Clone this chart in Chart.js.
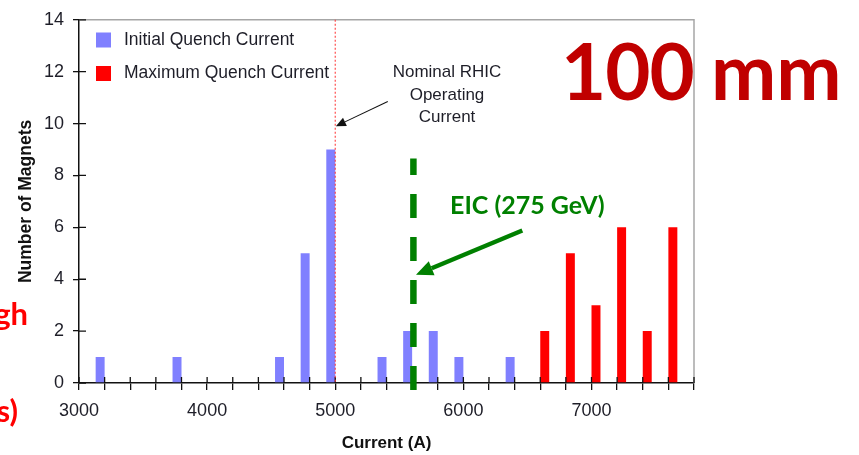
<!DOCTYPE html>
<html>
<head>
<meta charset="utf-8">
<script src="https://cdn.jsdelivr.net/npm/chart.js@4/dist/chart.umd.min.js"></script>
<style>
  html, body { margin: 0; padding: 0; background: #fff; }
  canvas { display: block; }
</style>
</head>
<body>
<canvas id="quench" width="859" height="455"></canvas>
<script>
// 200 A histogram bins (bin centre current, A)
const binCenters = [3000, 3200, 3400, 3600, 3800, 4000, 4200, 4400, 4600, 4800,
                    5000, 5200, 5400, 5600, 5800, 6000, 6200, 6400, 6600, 6800,
                    7000, 7200, 7400, 7600, 7800];

// Initial quench current: occupied bins and magnet counts
const initialBins   = [3200, 3800, 4600, 4800, 5000, 5400, 5600, 5800, 6000, 6400];
const initialCounts = [1, 1, 1, 5, 9, 1, 2, 2, 1, 1];

// Maximum quench current: occupied bins and magnet counts
const maxBins   = [6600, 6800, 7000, 7200, 7400, 7600];
const maxCounts = [2, 5, 3, 6, 2, 6];

// Axis labelling
const xTickLabels = [3000, 4000, 5000, 6000, 7000];
const yTickStep = 2;
const yMax = 14;

// Reference currents (A)
const nominalRhicCurrent = 5000;
const eicCurrent = 5610;

// Arrow end points in data units [current, magnets]
const nominalArrow = { from: [5410, 10.85], to: [5005, 9.9] };
const eicArrow     = { from: [6460, 5.88],  to: [5630, 4.17] };

function countsFor(bins, counts) {
  return binCenters.map(b => {
    const i = bins.indexOf(b);
    return i >= 0 ? counts[i] : null;
  });
}

const AXIS_FONT = "'Liberation Sans', Arial, sans-serif";
const SLIDE_FONT = "Lato, 'Open Sans', sans-serif";
const GREEN = '#008000';

function arrow(ctx, x1, y1, x2, y2, width, headLen, headW, color) {
  const ang = Math.atan2(y2 - y1, x2 - x1);
  const bx = x2 - headLen * Math.cos(ang);
  const by = y2 - headLen * Math.sin(ang);
  ctx.save();
  ctx.strokeStyle = color;
  ctx.fillStyle = color;
  ctx.lineWidth = width;
  ctx.beginPath();
  ctx.moveTo(x1, y1);
  ctx.lineTo(bx, by);
  ctx.stroke();
  ctx.beginPath();
  ctx.moveTo(x2, y2);
  ctx.lineTo(bx + headW / 2 * Math.sin(ang), by - headW / 2 * Math.cos(ang));
  ctx.lineTo(bx - headW / 2 * Math.sin(ang), by + headW / 2 * Math.cos(ang));
  ctx.closePath();
  ctx.fill();
  ctx.restore();
}

// Frame, inward tick stubs, reference lines, legend and annotations
const decorations = {
  id: 'decorations',
  afterDatasetsDraw(chart) {
    const { ctx, chartArea: a, scales } = chart;
    const x = scales.x, y = scales.y, xc = scales.xc;
    ctx.save();

    // light frame on top and right
    ctx.strokeStyle = '#a6a6a6';
    ctx.lineWidth = 1.5;
    ctx.beginPath();
    ctx.moveTo(a.left, a.top);
    ctx.lineTo(a.right, a.top);
    ctx.lineTo(a.right, a.bottom);
    ctx.stroke();

    // tick stubs pointing into the plot
    ctx.strokeStyle = '#111';
    ctx.lineWidth = 1.3;
    ctx.beginPath();
    x.ticks.forEach((t, i) => {
      const px = x.getPixelForTick(i);
      ctx.moveTo(px, a.bottom);
      ctx.lineTo(px, a.bottom - 6);
    });
    y.ticks.forEach((t, i) => {
      const py = y.getPixelForTick(i);
      ctx.moveTo(a.left, py);
      ctx.lineTo(a.left + 7, py);
    });
    ctx.stroke();

    // nominal RHIC operating current
    const nx = xc.getPixelForValue(nominalRhicCurrent);
    ctx.strokeStyle = 'rgba(255,60,60,0.9)';
    ctx.lineWidth = 1.2;
    ctx.setLineDash([2, 2]);
    ctx.beginPath();
    ctx.moveTo(nx, a.top);
    ctx.lineTo(nx, a.bottom);
    ctx.stroke();
    ctx.setLineDash([]);

    ctx.fillStyle = '#1e1e28';
    ctx.font = '17px ' + AXIS_FONT;
    ctx.textAlign = 'center';
    ctx.textBaseline = 'middle';
    ctx.fillText('Nominal RHIC', 447, 72);
    ctx.fillText('Operating', 447, 95);
    ctx.fillText('Current', 447, 117);
    arrow(ctx,
      xc.getPixelForValue(nominalArrow.from[0]), y.getPixelForValue(nominalArrow.from[1]),
      xc.getPixelForValue(nominalArrow.to[0]),   y.getPixelForValue(nominalArrow.to[1]),
      1.1, 10, 9, '#111');

    // EIC operating current
    const ex = xc.getPixelForValue(eicCurrent);
    ctx.strokeStyle = GREEN;
    ctx.lineWidth = 6.5;
    ctx.setLineDash([24, 19]);
    ctx.beginPath();
    ctx.moveTo(ex, a.bottom + 7);
    ctx.lineTo(ex, y.getPixelForValue(8.65));
    ctx.stroke();
    ctx.setLineDash([]);

    arrow(ctx,
      xc.getPixelForValue(eicArrow.from[0]), y.getPixelForValue(eicArrow.from[1]),
      xc.getPixelForValue(eicArrow.to[0]),   y.getPixelForValue(eicArrow.to[1]),
      4.5, 17, 15, GREEN);

    ctx.fillStyle = GREEN;
    ctx.font = 'bold 25px ' + SLIDE_FONT;
    ctx.textAlign = 'left';
    ctx.textBaseline = 'alphabetic';
    ctx.fillText('EIC (275 GeV)', 450, 214);

    // legend
    ctx.font = '17.5px ' + AXIS_FONT;
    ctx.textBaseline = 'middle';
    chart.data.datasets.forEach((ds, i) => {
      const cy = 40 + i * 33.5;
      ctx.fillStyle = ds.backgroundColor;
      ctx.fillRect(96, cy - 7.5, 15, 15);
      ctx.fillStyle = '#1e1e28';
      ctx.fillText(ds.label, 124, cy);
    });

    ctx.restore();
  },
  afterDraw(chart) {
    const { ctx } = chart;
    ctx.save();
    ctx.textBaseline = 'alphabetic';
    ctx.fillStyle = '#C00000';
    ctx.font = 'bold 78px ' + SLIDE_FONT;
    ctx.textAlign = 'left';
    ctx.letterSpacing = '-1px';
    ctx.fillText('100', 561, 100);
    ctx.letterSpacing = '0px';
    ctx.fillText('mm', 711, 100);

    ctx.fillStyle = '#FF0000';
    ctx.font = 'bold 31px ' + SLIDE_FONT;
    ctx.textAlign = 'right';
    ctx.fillText('gh', 28, 325);
    ctx.fillText('s)', 18, 422);
    ctx.restore();
  }
};

new Chart(document.getElementById('quench'), {
  type: 'bar',
  data: {
    labels: binCenters,
    datasets: [
      {
        label: 'Initial Quench Current',
        data: countsFor(initialBins, initialCounts),
        backgroundColor: '#8080ff'
      },
      {
        label: 'Maximum Quench Current',
        data: countsFor(maxBins, maxCounts),
        backgroundColor: '#ff0000'
      }
    ]
  },
  options: {
    responsive: false,
    animation: false,
    devicePixelRatio: 1,
    categoryPercentage: 0.7,
    barPercentage: 1.0,
    layout: { padding: { left: 0, top: 14, right: 165, bottom: 0 } },
    plugins: {
      legend: { display: false },
      tooltip: { enabled: false }
    },
    scales: {
      x: {
        offset: false,
        afterFit: s => { s.height = 72; },
        grid: {
          offset: false,
          drawOnChartArea: false,
          drawTicks: true,
          tickLength: 7,
          color: '#111',
          lineWidth: 1.3
        },
        border: { display: true, color: '#111', width: 1.5 },
        ticks: {
          autoSkip: false,
          maxRotation: 0,
          padding: 10,
          color: '#1e1e28',
          font: { family: AXIS_FONT, size: 18 },
          callback: (v, i) => xTickLabels.includes(binCenters[i]) ? String(binCenters[i]) : ''
        },
        title: {
          display: true,
          text: 'Current (A)',
          color: '#111',
          font: { family: AXIS_FONT, size: 17, weight: 'bold' },
          padding: { top: 0, bottom: 1 }
        }
      },
      xc: {
        type: 'linear',
        display: false,
        offset: false,
        min: binCenters[0],
        max: binCenters[binCenters.length - 1]
      },
      y: {
        min: 0,
        max: yMax,
        afterFit: s => { s.width = 79; },
        grid: {
          drawOnChartArea: false,
          drawTicks: true,
          tickLength: 6,
          color: '#111',
          lineWidth: 1.3
        },
        border: { display: true, color: '#111', width: 1.5 },
        ticks: {
          stepSize: yTickStep,
          padding: 9,
          color: '#1e1e28',
          font: { family: AXIS_FONT, size: 18 }
        },
        title: {
          display: true,
          text: 'Number of Magnets',
          color: '#111',
          font: { family: AXIS_FONT, size: 17.5, weight: 'bold' },
          padding: { top: 16, bottom: 0 }
        }
      }
    }
  },
  plugins: [decorations]
});
</script>
</body>
</html>
